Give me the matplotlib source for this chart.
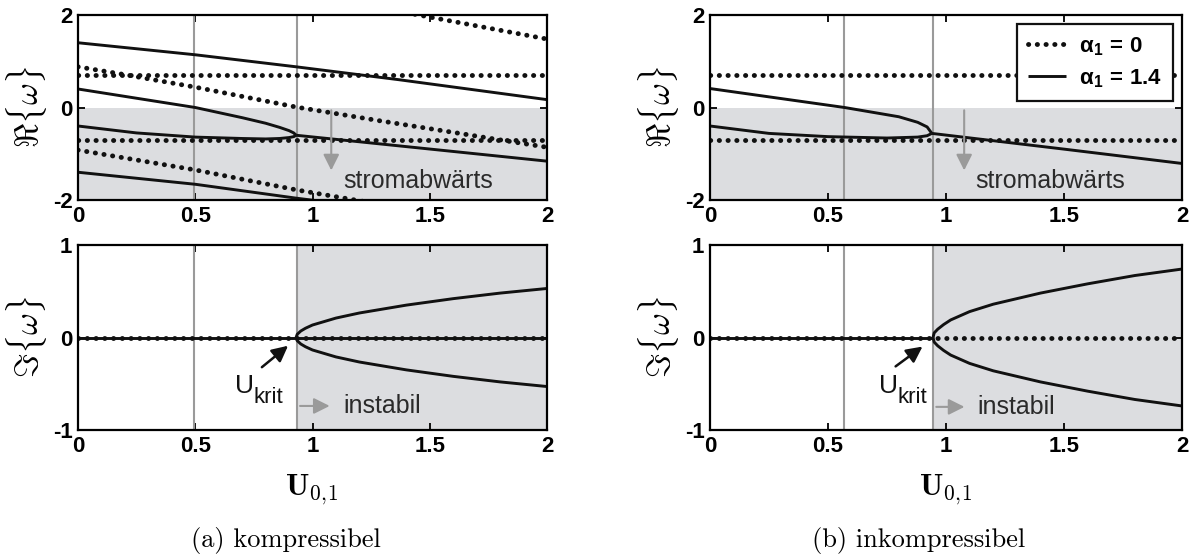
import matplotlib
matplotlib.use("Agg")
import matplotlib.pyplot as plt

plt.rcParams['font.family'] = ['Liberation Sans', 'DejaVu Sans']
plt.rcParams['mathtext.fontset'] = 'cm'
plt.rcParams['axes.unicode_minus'] = False

# ---------------- data ----------------
XTICKS = [0, 0.5, 1, 1.5, 2]
XTICK_LABELS = ['0', '0.5', '1', '1.5', '2']
RE_TICKS = [-2, 0, 2]
RE_TICK_LABELS = ['-2', '0', '2']
IM_TICKS = [-1, 0, 1]
IM_TICK_LABELS = ['-1', '0', '1']

# (a) kompressibel -- real part, alpha1 = 1.4 (solid)
K_RE_S1_X = [0, 0.5, 0.93, 1.37, 2.0]
K_RE_S1_Y = [1.40, 1.14, 0.88, 0.60, 0.17]
K_RE_UP_X = [0, 0.25, 0.5, 0.7, 0.8, 0.86, 0.9, 0.92, 0.93]
K_RE_UP_Y = [0.40, 0.20, 0.00, -0.22, -0.34, -0.43, -0.50, -0.55, -0.60]
K_RE_LO_X = [0, 0.25, 0.5, 0.7, 0.8, 0.86, 0.9, 0.92, 0.93]
K_RE_LO_Y = [-0.40, -0.55, -0.64, -0.67, -0.68, -0.67, -0.65, -0.63, -0.60]
K_RE_MG_X = [0.93, 1.37, 2.0]
K_RE_MG_Y = [-0.60, -0.83, -1.16]
K_RE_S4_X = [0, 0.5, 0.93, 1.2]
K_RE_S4_Y = [-1.40, -1.66, -1.96, -2.13]
# (a) kompressibel -- real part, alpha1 = 0 (dotted)
K_RE_D1_X = [0, 2.0]
K_RE_D1_Y = [0.70, 0.70]
K_RE_D2_X = [0, 2.0]
K_RE_D2_Y = [-0.70, -0.70]
K_RE_D3_X = [0, 0.2, 0.5, 0.93, 1.29, 1.64, 1.75, 2.0]
K_RE_D3_Y = [0.88, 0.71, 0.44, 0.01, -0.29, -0.57, -0.66, -0.86]
K_RE_D4_X = [0, 0.5, 0.93, 1.25]
K_RE_D4_Y = [-0.92, -1.35, -1.78, -2.06]
K_RE_D5_X = [1.40, 2.0]
K_RE_D5_Y = [2.05, 1.48]
# (a) kompressibel -- imaginary part
K_IM_S0_X = [0, 2.0]
K_IM_S0_Y = [0, 0]
K_IM_UP_X = [0.93, 0.935, 0.95, 0.97, 1.0, 1.1, 1.2, 1.4, 1.6, 1.8, 2.0]
K_IM_UP_Y = [0.0, 0.035, 0.07, 0.10, 0.135, 0.21, 0.265, 0.35, 0.42, 0.48, 0.53]
K_IM_LO_X = [0.93, 0.935, 0.95, 0.97, 1.0, 1.1, 1.2, 1.4, 1.6, 1.8, 2.0]
K_IM_LO_Y = [0.0, -0.035, -0.07, -0.10, -0.135, -0.21, -0.265, -0.35, -0.42, -0.48, -0.53]
K_IM_D_X = [0, 2.0]
K_IM_D_Y = [0, 0]
K_VLINES = [0.495, 0.932]

# (b) inkompressibel -- real part
I_RE_UP_X = [0, 0.25, 0.57, 0.8, 0.88, 0.92, 0.94]
I_RE_UP_Y = [0.41, 0.23, 0.00, -0.20, -0.32, -0.42, -0.56]
I_RE_LO_X = [0, 0.25, 0.5, 0.75, 0.88, 0.92, 0.94]
I_RE_LO_Y = [-0.40, -0.56, -0.63, -0.66, -0.64, -0.61, -0.56]
I_RE_MG_X = [0.94, 1.5, 2.0]
I_RE_MG_Y = [-0.56, -0.90, -1.21]
I_RE_D1_X = [0, 2.0]
I_RE_D1_Y = [0.70, 0.70]
I_RE_D2_X = [0, 2.0]
I_RE_D2_Y = [-0.70, -0.70]
# (b) inkompressibel -- imaginary part
I_IM_S0_X = [0, 0.945]
I_IM_S0_Y = [0, 0]
I_IM_UP_X = [0.945, 0.95, 0.965, 0.99, 1.02, 1.1, 1.2, 1.4, 1.6, 1.8, 2.0]
I_IM_UP_Y = [0.0, 0.05, 0.09, 0.14, 0.19, 0.28, 0.36, 0.48, 0.58, 0.67, 0.74]
I_IM_LO_X = [0.945, 0.95, 0.965, 0.99, 1.02, 1.1, 1.2, 1.4, 1.6, 1.8, 2.0]
I_IM_LO_Y = [0.0, -0.05, -0.09, -0.14, -0.19, -0.28, -0.36, -0.48, -0.58, -0.67, -0.74]
I_IM_D_X = [0, 2.0]
I_IM_D_Y = [0, 0]
I_VLINES = [0.567, 0.944]

LEGEND_LABELS = [r'α$_\mathregular{1}$ = 0', r'α$_\mathregular{1}$ = 1.4']

# ---------------- style ----------------
SHADE = '#dcdde0'
VGRAY = '#9a9a9a'
DOT = dict(color='#111111', lw=3.5, linestyle=(0, (0.05, 1.75)), dash_capstyle='round', zorder=4)
SOLID = dict(color='#111111', lw=2.1, solid_capstyle='butt', zorder=5)

fig = plt.figure(figsize=(11.92, 5.54), dpi=100)
axes = {
    'kre': fig.add_axes([78/1192, 1-200/554, 469/1192, 185/554]),
    'kim': fig.add_axes([78/1192, 1-430/554, 469/1192, 185/554]),
    'ire': fig.add_axes([710/1192, 1-200/554, 472/1192, 185/554]),
    'iim': fig.add_axes([710/1192, 1-430/554, 472/1192, 185/554]),
}


def style(ax, yt, ytl, ylabel):
    ax.set_xlim(0, 2)
    ax.set_xticks(XTICKS, labels=XTICK_LABELS)
    ax.set_yticks(yt, labels=ytl)
    ax.set_ylim(yt[0], yt[-1])
    ax.tick_params(direction='in', top=True, right=True, length=5, width=1.3,
                   labelsize=16, pad=4)
    for lab in ax.get_xticklabels() + ax.get_yticklabels():
        lab.set_fontweight('bold')
    for s in ax.spines.values():
        s.set_linewidth(1.6)
        s.set_zorder(10)
    ax.set_ylabel(ylabel, fontsize=24, va='center')
    ax.yaxis.set_label_coords(-0.11, 0.5)


def ukrit(ax, x_right, y):
    ax.text(x_right - 0.125, y, 'U', fontsize=19, color='#111111',
            ha='right', va='center', zorder=7)
    ax.text(x_right - 0.125, y - 0.13, 'krit', fontsize=16, color='#111111',
            ha='left', va='center', zorder=7)


# --- (a) real
ax = axes['kre']
ax.axhspan(-2, 0, color=SHADE, lw=0, zorder=0)
for v in K_VLINES:
    ax.axvline(v, color=VGRAY, lw=1.5, zorder=3)
for xs, ys in [(K_RE_D1_X, K_RE_D1_Y), (K_RE_D2_X, K_RE_D2_Y), (K_RE_D3_X, K_RE_D3_Y),
               (K_RE_D4_X, K_RE_D4_Y), (K_RE_D5_X, K_RE_D5_Y)]:
    ax.plot(xs, ys, **DOT)
for xs, ys in [(K_RE_S1_X, K_RE_S1_Y), (K_RE_UP_X, K_RE_UP_Y), (K_RE_LO_X, K_RE_LO_Y),
               (K_RE_MG_X, K_RE_MG_Y), (K_RE_S4_X, K_RE_S4_Y)]:
    ax.plot(xs, ys, **SOLID)
style(ax, RE_TICKS, RE_TICK_LABELS, r'$\Re\{\omega\}$')
ax.annotate('', xy=(1.08, -1.42), xytext=(1.08, 0.0),
            arrowprops=dict(arrowstyle='-|>', color=VGRAY, lw=1.5, mutation_scale=24), zorder=6)
ax.text(1.13, -1.58, 'stromabwärts', fontsize=18, color='#2a2a2a', va='center', ha='left', zorder=7)

# --- (a) imag
ax = axes['kim']
ax.axvspan(0.932, 2, color=SHADE, lw=0, zorder=0)
for v in K_VLINES:
    ax.axvline(v, color=VGRAY, lw=1.5, zorder=3)
ax.plot(K_IM_S0_X, K_IM_S0_Y, **SOLID)
ax.plot(K_IM_UP_X, K_IM_UP_Y, **SOLID)
ax.plot(K_IM_LO_X, K_IM_LO_Y, **SOLID)
ax.plot(K_IM_D_X, K_IM_D_Y, **DOT)
style(ax, IM_TICKS, IM_TICK_LABELS, r'$\Im\{\omega\}$')
ax.annotate('', xy=(0.905, -0.07), xytext=(0.775, -0.34),
            arrowprops=dict(arrowstyle='-|>', color='#111111', lw=1.8, mutation_scale=24), zorder=7)
ukrit(ax, 0.875, -0.52)
ax.annotate('', xy=(1.085, -0.74), xytext=(0.935, -0.74),
            arrowprops=dict(arrowstyle='-|>', color=VGRAY, lw=1.5, mutation_scale=24), zorder=6)
ax.text(1.13, -0.74, 'instabil', fontsize=18, color='#2a2a2a', va='center', ha='left', zorder=7)

# --- (b) real
ax = axes['ire']
ax.axhspan(-2, 0, color=SHADE, lw=0, zorder=0)
for v in I_VLINES:
    ax.axvline(v, color=VGRAY, lw=1.5, zorder=3)
l0, = ax.plot(I_RE_D1_X, I_RE_D1_Y, label=LEGEND_LABELS[0], **DOT)
ax.plot(I_RE_D2_X, I_RE_D2_Y, **DOT)
l1, = ax.plot(I_RE_UP_X, I_RE_UP_Y, label=LEGEND_LABELS[1], **SOLID)
ax.plot(I_RE_LO_X, I_RE_LO_Y, **SOLID)
ax.plot(I_RE_MG_X, I_RE_MG_Y, **SOLID)
style(ax, RE_TICKS, RE_TICK_LABELS, r'$\Re\{\omega\}$')
ax.annotate('', xy=(1.077, -1.42), xytext=(1.077, 0.0),
            arrowprops=dict(arrowstyle='-|>', color=VGRAY, lw=1.5, mutation_scale=24), zorder=6)
ax.text(1.125, -1.58, 'stromabwärts', fontsize=18, color='#2a2a2a', va='center', ha='left', zorder=7)
leg = ax.legend(handles=[l0, l1], loc='upper right', bbox_to_anchor=(0.981, 0.951),
                fancybox=False, framealpha=1, edgecolor='#111111',
                prop={'size': 16, 'weight': 'bold'}, handlelength=1.7,
                handletextpad=0.6, borderpad=0.5, labelspacing=0.4, borderaxespad=0)
leg.get_frame().set_linewidth(1.6)
leg.set_zorder(20)

# --- (b) imag
ax = axes['iim']
ax.axvspan(0.944, 2, color=SHADE, lw=0, zorder=0)
for v in I_VLINES:
    ax.axvline(v, color=VGRAY, lw=1.5, zorder=3)
ax.plot(I_IM_S0_X, I_IM_S0_Y, **SOLID)
ax.plot(I_IM_UP_X, I_IM_UP_Y, **SOLID)
ax.plot(I_IM_LO_X, I_IM_LO_Y, **SOLID)
ax.plot(I_IM_D_X, I_IM_D_Y, **DOT)
style(ax, IM_TICKS, IM_TICK_LABELS, r'$\Im\{\omega\}$')
ax.annotate('', xy=(0.91, -0.08), xytext=(0.777, -0.33),
            arrowprops=dict(arrowstyle='-|>', color='#111111', lw=1.8, mutation_scale=24), zorder=7)
ukrit(ax, 0.92, -0.52)
ax.annotate('', xy=(1.09, -0.75), xytext=(0.947, -0.75),
            arrowprops=dict(arrowstyle='-|>', color=VGRAY, lw=1.5, mutation_scale=24), zorder=6)
ax.text(1.134, -0.75, 'instabil', fontsize=18, color='#2a2a2a', va='center', ha='left', zorder=7)

# x labels and captions
XLABEL = r'$\mathbf{U}_\mathbf{0,\!1}$'
fig.text(312/1192, 1-490/554, XLABEL, fontsize=22, ha='center', va='center')
fig.text(946/1192, 1-490/554, XLABEL, fontsize=22, ha='center', va='center')
fig.text(286/1192, 1-541/554, '(a) kompressibel', fontsize=19, family='cmr10', ha='center', va='center')
fig.text(919/1192, 1-541/554, '(b) inkompressibel', fontsize=19, family='cmr10', ha='center', va='center')

fig.savefig('out.png', dpi=100, facecolor='white')
